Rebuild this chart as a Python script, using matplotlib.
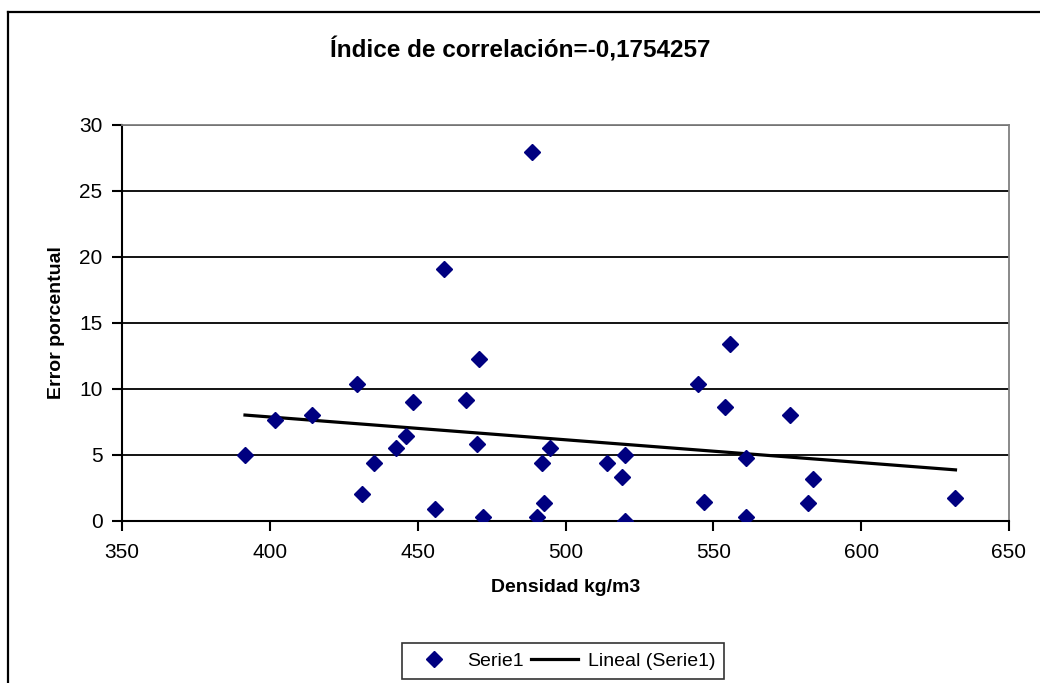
import numpy as np
import matplotlib
matplotlib.use("Agg")
import matplotlib.pyplot as plt
from matplotlib.lines import Line2D

plt.rcParams['font.family'] = ['Liberation Sans', 'DejaVu Sans']

# datos
densidad = [391.6, 401.7, 414.1, 429.5, 431.3, 435.4, 442.6, 445.9, 448.5, 455.7,
            458.9, 466.2, 470.6, 469.9, 472.2, 488.8, 490.2, 492.1, 492.8, 494.7,
            514.2, 519.0, 520.0, 520.0, 544.8, 546.7, 553.9, 555.8, 560.9, 560.9,
            576.0, 582.0, 583.8, 631.9]
error = [5.0, 7.6, 8.0, 10.33, 2.02, 4.35, 5.53, 6.42, 9.02, 0.86,
         19.1, 9.17, 12.23, 5.81, 0.26, 27.95, 0.26, 4.35, 1.32, 5.53,
         4.35, 3.33, 4.98, 0.0, 10.33, 1.44, 8.59, 13.41, 4.77, 0.26,
         8.0, 1.32, 3.18, 1.74]
titulo = "Índice de correlación=-0,1754257"


def main():
    fig = plt.figure(figsize=(10.4, 6.83), dpi=100)
    ax = fig.add_axes([122/1040, 1 - 520.7/683, 887/1040, 396/683])

    # outer chart border
    fig.add_artist(Line2D([8/1040, 8/1040], [-0.01, 1 - 12/683], color='black', lw=1.6,
                          transform=fig.transFigure))
    fig.add_artist(Line2D([8/1040, 1.01], [1 - 12/683, 1 - 12/683], color='black', lw=1.6,
                          transform=fig.transFigure))

    x = np.array(densidad)
    y = np.array(error)
    ax.plot(x, y, linestyle='none', marker='D', color='#000080', markersize=8.5,
            label='Serie1', zorder=3)

    # linear trendline
    m, b = np.polyfit(x, y, 1)
    xs = np.array([x.min(), x.max()])
    ax.plot(xs, m * xs + b, color='black', lw=2.3, label='Lineal (Serie1)', zorder=2)

    ax.set_xlim(350, 650)
    ax.set_ylim(0, 30)
    ax.set_xticks(range(350, 651, 50))
    ax.set_yticks(range(0, 31, 5))
    ax.yaxis.grid(True, color='black', lw=1.3)
    ax.set_axisbelow(True)

    for s in ['top', 'right']:
        ax.spines[s].set_color('#808080')
        ax.spines[s].set_linewidth(1.3)
    for s in ['left', 'bottom']:
        ax.spines[s].set_color('black')
        ax.spines[s].set_linewidth(1.5)

    ax.tick_params(axis='both', direction='out', length=7, width=1.5, labelsize=15)
    ax.tick_params(axis='x', pad=9)
    ax.tick_params(axis='y', pad=7)

    ax.set_xlabel('Densidad kg/m3', fontsize=14, fontweight='bold', labelpad=12)
    ax.set_ylabel('Error porcentual', fontsize=14, fontweight='bold', labelpad=10)
    fig.text(0.5, 1 - 50/683, titulo, ha='center', va='center', fontsize=17.5,
             fontweight='bold')

    leg = fig.legend(loc='center', bbox_to_anchor=(563/1040, 1 - 661/683), ncol=2,
                     fontsize=14, frameon=True, fancybox=False, edgecolor='black',
                     handlelength=2.4, columnspacing=0.4, handletextpad=0.5,
                     borderpad=0.45)
    leg.get_frame().set_linewidth(1.2)

    fig.savefig('out.png', dpi=100)


if __name__ == "__main__":
    main()
